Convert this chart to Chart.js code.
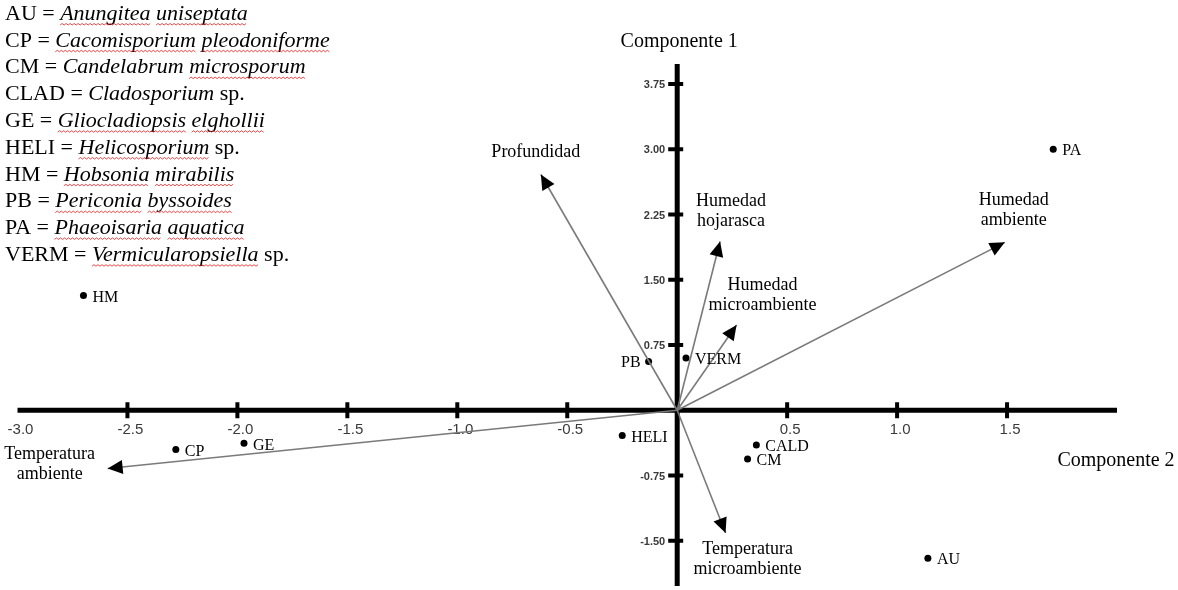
<!DOCTYPE html>
<html>
<head>
<meta charset="utf-8">
<script src="https://cdn.jsdelivr.net/npm/chart.js@4.4.0/dist/chart.umd.min.js"></script>
<style>
  html, body { margin: 0; padding: 0; background: #fff; }
  #wrap { width: 1178px; height: 590px; position: relative; }
</style>
</head>
<body>
<div id="wrap"><canvas id="biplot"></canvas></div>
<script>
// species scores (Componente 2 = x, Componente 1 = y)
const speciesCodes = ['HM', 'PA', 'PB', 'VERM', 'HELI', 'CALD', 'CM', 'AU', 'CP', 'GE'];
const speciesComp2 = [-2.70, 1.71, -0.13, 0.04, -0.25, 0.36, 0.32, 1.14, -2.28, -1.97];
const speciesComp1 = [1.32, 3.00, 0.56, 0.60, -0.29, -0.40, -0.56, -1.70, -0.45, -0.38];

// environmental vectors
const variableNames = [
  ['Profundidad'],
  ['Humedad', 'hojarasca'],
  ['Humedad', 'microambiente'],
  ['Humedad', 'ambiente'],
  ['Temperatura', 'microambiente'],
  ['Temperatura', 'ambiente']
];
const variableComp2 = [-0.62, 0.195, 0.27, 1.49, 0.22, -2.59];
const variableComp1 = [2.71, 1.94, 0.98, 1.93, -1.41, -0.67];

// ticks
const xTickValues = [-3, -2.5, -2, -1.5, -1, -0.5, 0.5, 1, 1.5];
const xTickLabels = ['-3.0', '-2.5', '-2.0', '-1.5', '-1.0', '-0.5', '0.5', '1.0', '1.5'];
const yTickValues = [3.75, 3, 2.25, 1.5, 0.75, -0.75, -1.5];
const yTickLabels = ['3.75', '3.00', '2.25', '1.50', '0.75', '-0.75', '-1.50'];

// key to the codes
const legendCodes = ['AU', 'CP', 'CM', 'CLAD', 'GE', 'HELI', 'HM', 'PB', 'PA', 'VERM'];
const legendGenus = ['Anungitea', 'Cacomisporium', 'Candelabrum', 'Cladosporium', 'Gliocladiopsis',
  'Helicosporium', 'Hobsonia', 'Periconia', 'Phaeoisaria', 'Vermicularopsiella'];
const legendSpecies = ['uniseptata', 'pleodoniforme', 'microsporum', 'sp.', 'elghollii',
  'sp.', 'mirabilis', 'byssoides', 'aquatica', 'sp.'];
const notFlagged = ['Candelabrum', 'Cladosporium'];

const serif = '"Liberation Serif", "Times New Roman", serif';
const sans = '"Liberation Sans", Arial, sans-serif';

// label placement (px, relative to the arrow tip / dot)
const arrowLabelOffsets = [[-5, -22], [11, -40], [26, -40], [9, -42], [22, 16], [-58, -14]];
const leftLabels = ['PB'];

function wavy(ctx, x1, x2, y) {
  ctx.save();
  ctx.strokeStyle = 'rgba(230,40,40,0.85)';
  ctx.lineWidth = 1;
  ctx.beginPath();
  let up = true;
  ctx.moveTo(x1, y);
  for (let x = x1 + 2; x <= x2; x += 2) {
    ctx.lineTo(x, up ? y - 1.5 : y);
    up = !up;
  }
  ctx.stroke();
  ctx.restore();
}

const biplotPlugin = {
  id: 'biplot',
  beforeDatasetsDraw(chart) {
    const { ctx, chartArea, scales: { x, y } } = chart;
    const x0 = x.getPixelForValue(0);
    const y0 = y.getPixelForValue(0);
    ctx.save();
    ctx.strokeStyle = '#000';
    ctx.lineWidth = 5;
    ctx.beginPath();
    ctx.moveTo(chartArea.left, y0);
    ctx.lineTo(chartArea.right, y0);
    ctx.moveTo(x0, chartArea.top);
    ctx.lineTo(x0, chartArea.bottom);
    ctx.stroke();

    // tick marks crossing the axes
    ctx.lineWidth = 4;
    ctx.beginPath();
    xTickValues.forEach(v => {
      if (v === x.min) return;
      const px = x.getPixelForValue(v);
      ctx.moveTo(px, y0 - 8);
      ctx.lineTo(px, y0 + 8);
    });
    yTickValues.forEach(v => {
      const py = y.getPixelForValue(v);
      ctx.moveTo(x0 - 9, py);
      ctx.lineTo(x0 + 6, py);
    });
    ctx.stroke();

    ctx.fillStyle = '#3a3a3a';
    ctx.font = '15px ' + sans;
    ctx.textAlign = 'center';
    ctx.textBaseline = 'top';
    xTickValues.forEach((v, i) => {
      ctx.fillText(xTickLabels[i], x.getPixelForValue(v) + 3, y0 + 12);
    });
    ctx.font = 'bold 11px ' + sans;
    ctx.textAlign = 'right';
    ctx.textBaseline = 'middle';
    yTickValues.forEach((v, i) => {
      ctx.fillText(yTickLabels[i], x0 - 12, y.getPixelForValue(v) + 1);
    });
    ctx.restore();
  },
  afterDatasetsDraw(chart) {
    const { ctx, chartArea, scales: { x, y } } = chart;
    const x0 = x.getPixelForValue(0);
    const y0 = y.getPixelForValue(0);
    ctx.save();

    // arrow heads + labels
    variableNames.forEach((lines, i) => {
      const pts = chart.getDatasetMeta(i).data;
      const o = pts[0], t = pts[1];
      const a = Math.atan2(t.y - o.y, t.x - o.x);
      const L = 15, W = 7;
      const bx = t.x - L * Math.cos(a), by = t.y - L * Math.sin(a);
      ctx.fillStyle = '#000';
      ctx.beginPath();
      ctx.moveTo(t.x, t.y);
      ctx.lineTo(bx + W * Math.sin(a), by - W * Math.cos(a));
      ctx.lineTo(bx - W * Math.sin(a), by + W * Math.cos(a));
      ctx.closePath();
      ctx.fill();

      ctx.font = '18px ' + serif;
      ctx.textAlign = 'center';
      ctx.textBaseline = 'middle';
      const [dx, dy] = arrowLabelOffsets[i];
      lines.forEach((s, k) => ctx.fillText(s, t.x + dx, t.y + dy + k * 20));
    });

    // species labels
    const spMeta = chart.getDatasetMeta(variableNames.length);
    ctx.font = '16px ' + serif;
    ctx.textBaseline = 'middle';
    ctx.fillStyle = '#000';
    spMeta.data.forEach((p, i) => {
      const code = speciesCodes[i];
      if (leftLabels.includes(code)) {
        ctx.textAlign = 'right';
        ctx.fillText(code, p.x - 8, p.y + 1);
      } else {
        ctx.textAlign = 'left';
        ctx.fillText(code, p.x + 9, p.y + 2);
      }
    });

    // axis titles
    ctx.font = '20px ' + serif;
    ctx.textAlign = 'center';
    ctx.fillText('Componente 1', x0 + 2, chartArea.top - 22);
    ctx.fillText('Componente 2', chartArea.right - 1, y0 + 50);

    // key
    ctx.textAlign = 'left';
    const keyFont = '22px ' + serif;
    legendCodes.forEach((code, i) => {
      const ly = 14 + i * 26.8;
      let cx = 5;
      ctx.font = keyFont;
      const head = code + ' = ';
      ctx.fillText(head, cx, ly);
      cx += ctx.measureText(head).width;
      const words = [legendGenus[i], legendSpecies[i]];
      words.forEach((w, k) => {
        const italic = w !== 'sp.';
        ctx.font = (italic ? 'italic ' : '') + keyFont;
        ctx.fillText(w, cx, ly);
        const ww = ctx.measureText(w).width;
        if (italic && !notFlagged.includes(w)) wavy(ctx, cx, cx + ww, ly + 11);
        cx += ww;
        if (k === 0) {
          ctx.font = keyFont;
          cx += ctx.measureText(' ').width;
        }
      });
    });
    ctx.restore();
  }
};

const arrowSets = variableNames.map((n, i) => ({
  type: 'line',
  label: n.join(' '),
  data: [{ x: 0, y: 0 }, { x: variableComp2[i], y: variableComp1[i] }],
  borderColor: '#7a7a7a',
  borderWidth: 1.6,
  pointRadius: 0,
  fill: false
}));

const biplot = new Chart(document.getElementById('biplot'), {
  type: 'scatter',
  data: {
    datasets: [
      ...arrowSets,
      {
        label: 'Especies',
        data: speciesCodes.map((c, i) => ({ x: speciesComp2[i], y: speciesComp1[i] })),
        pointRadius: 3.5,
        backgroundColor: '#000',
        borderWidth: 0
      }
    ]
  },
  options: {
    responsive: true,
    maintainAspectRatio: false,
    animation: false,
    layout: { padding: { left: 17.5, right: 61, top: 64, bottom: 0 } },
    plugins: { legend: { display: false }, tooltip: { enabled: false } },
    scales: {
      x: { type: 'linear', min: -3, max: 2, display: false },
      y: { type: 'linear', min: -2.02, max: 3.98, display: false }
    }
  },
  plugins: [biplotPlugin]
});
</script>
</body>
</html>
